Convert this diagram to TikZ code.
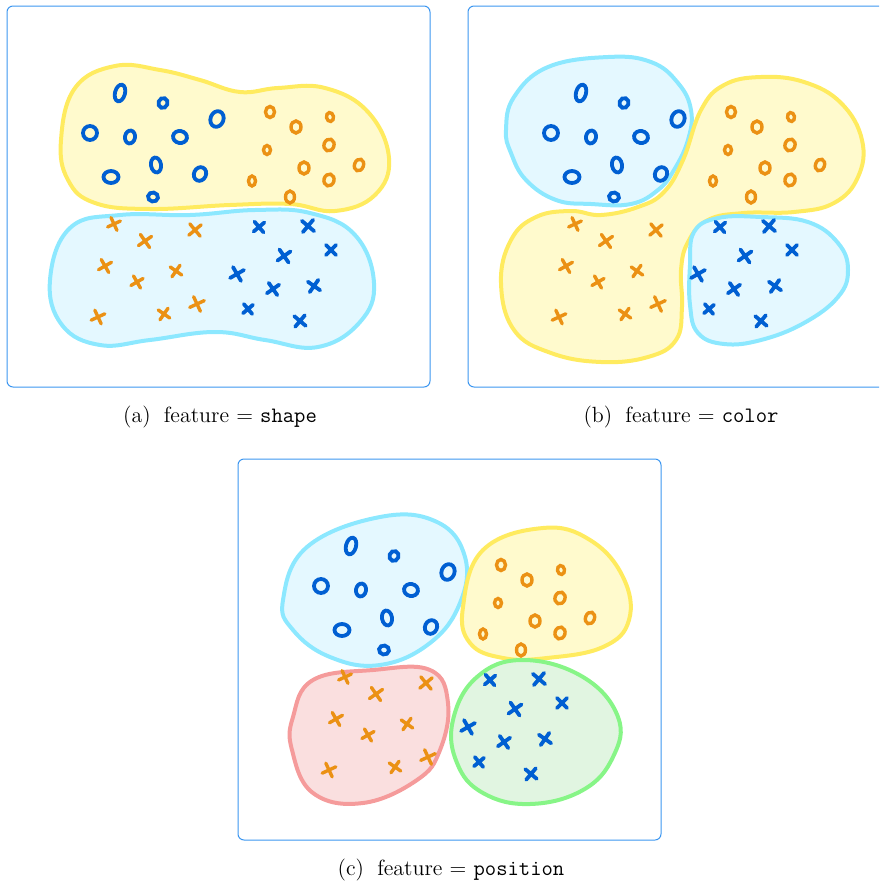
\documentclass[tikz,border=0pt]{standalone}
\usepackage{xcolor}
\definecolor{framec}{RGB}{60,150,240}
\definecolor{markblue}{RGB}{0,95,210}
\definecolor{markorange}{RGB}{235,145,20}
\definecolor{yelline}{RGB}{255,235,95}
\definecolor{yelfill}{RGB}{255,250,205}
\definecolor{cyanline}{RGB}{140,232,255}
\definecolor{cyanfill}{RGB}{228,248,255}
\definecolor{redline}{RGB}{245,155,155}
\definecolor{redfill}{RGB}{250,223,223}
\definecolor{greenline}{RGB}{135,245,135}
\definecolor{greenfill}{RGB}{225,245,225}
\tikzset{
frame/.style={draw=framec, line width=0.5pt, rounded corners=3pt},
blob/.style={line width=2pt, smooth cycle, tension=0.7},
yblob/.style={blob, draw=yelline, fill=yelfill},
cblob/.style={blob, draw=cyanline, fill=cyanfill},
rblob/.style={blob, draw=redline, fill=redfill},
gblob/.style={blob, draw=greenline, fill=greenfill},
mark blue/.style={draw=markblue, line width=1.9pt, line cap=round},
mark orange/.style={draw=markorange, line width=1.7pt, line cap=round},
caption/.style={font=\fontsize{11}{13}\selectfont, anchor=center}
}

\begin{document}
\begin{tikzpicture}[x=0.5pt, y=-0.5pt]
    \useasboundingbox (0,0) rectangle (879,884);
    \clip (0,0) rectangle (879,884);

    % (a) shape
    \begin{scope}
        \draw[yblob] plot coordinates {(61,140) (75,88) (115,66) (160,70) (200,80) (240,92) (278,88) (325,88) (368,112) (389,158) (375,195) (335,211) (290,204) (230,205) (150,209) (95,203) (68,180)};
        \draw[cblob] plot coordinates {(50,280) (70,228) (120,215) (190,215) (255,210) (310,213) (355,235) (374,283) (360,322) (318,347) (265,340) (215,332) (150,340) (100,345) (62,325)};
    \end{scope}

    % (b) color
    \begin{scope}[shift={(461,0)}]
        \draw[cblob] plot coordinates {(45,130) (53,97) (87,67) (147,57) (190,62) (217,83) (230,110) (227,140) (213,170) (197,190) (170,204) (130,204) (95,200) (65,180) (50,153)};
        \draw[yblob] plot coordinates {(240,110) (263,85) (300,77) (343,82) (380,103) (401,140) (397,177) (373,203) (333,212) (283,213) (247,220) (227,242) (220,270) (221,307) (215,340) (187,357) (140,362) (90,353) (53,330) (40,283) (50,240) (75,217) (110,211) (140,215) (177,207) (203,192) (222,160)};
        \draw[cblob] plot coordinates {(229,265) (233,232) (257,218) (300,217) (347,222) (377,243) (387,270) (377,297) (343,323) (300,340) (263,344) (237,333) (229,305)};
    \end{scope}

    % (c) position
    \begin{scope}[shift={(231,453)}]
        \draw[cblob] plot coordinates {(52,147) (76,94) (149,64) (206,69) (234,104) (229,150) (199,190) (149,212) (99,204) (62,177)};
        \draw[yblob] plot coordinates {(232,154) (252,97) (312,75) (359,87) (392,124) (398,167) (372,194) (316,205) (272,205) (239,190)};
        \draw[rblob] plot coordinates {(62,264) (82,227) (142,217) (199,217) (217,250) (209,297) (186,327) (132,350) (82,340) (61,297)};
        \draw[gblob] plot coordinates {(222,267) (246,224) (292,207) (352,224) (387,264) (382,304) (352,337) (299,351) (252,340) (226,310)};
    \end{scope}

    \foreach \dx/\dy/\tag/\feat in {0/0/a/shape, 461/0/b/color, 231/453/c/position}
    {
        \begin{scope}[shift={(\dx,\dy)}]
            \draw[frame] (7,6) rectangle (430,387);
            % rings
            \foreach \x/\y/\a/\b/\r in {120/93/5/8.5/-15, 163/103/4.5/5/-20, 217/119/6.5/8/-20, 90/133/7/7/0, 130/137/5/6.5/-10, 180/137/7/6/-10, 156/165/5/7.5/10, 200/174/6/7/-25, 111/177/7.5/6/0, 153/197/5/4.5/-10}
                \draw[mark blue, rotate around={\r:(\x,\y)}] (\x,\y) ellipse ({\a} and {\b});
            \foreach \x/\y/\a/\b/\r in {270/112/4.5/5.5/0, 330/117/3.5/4.5/10, 296/127/5/6/0, 329/145/5/6/-20, 267/150/3.5/4.5/0, 359/165/4.5/6/-20, 304/168/5/6/0, 252/181/3.5/5/0, 329/180/5/6/-15, 290/197/4.5/6/0}
                \draw[mark orange, rotate around={\r:(\x,\y)}] (\x,\y) ellipse ({\a} and {\b});
            % crosses
            \foreach \x/\y/\s/\r in {259/227/7/40, 308/226/8/50, 284/256/8/35, 331/250/7/45, 237/274/8/30, 273/289/7.5/35, 314/286/7.5/55, 248/309/6.5/40, 300/321/7.5/50}
                \draw[mark blue, rotate around={\r:(\x,\y)}] ({\x-\s},\y) -- ({\x+\s},\y) (\x,{\y-\s}) -- (\x,{\y+\s});
            \foreach \x/\y/\s/\r in {114/224/7/25, 145/241/8/35, 195/230/8/40, 105/266/7.5/30, 176/271/7/55, 137/282/7/30, 197/304/8/25, 98/317/7.5/25, 164/314/7/55}
                \draw[mark orange, rotate around={\r:(\x,\y)}] ({\x-\s},\y) -- ({\x+\s},\y) (\x,{\y-\s}) -- (\x,{\y+\s});
            \node[caption] (cap-\tag) at (220,417) {(\tag)\hspace{0.6em}feature = \texttt{\feat}};
        \end{scope}
    }
\end{tikzpicture}
\end{document}
